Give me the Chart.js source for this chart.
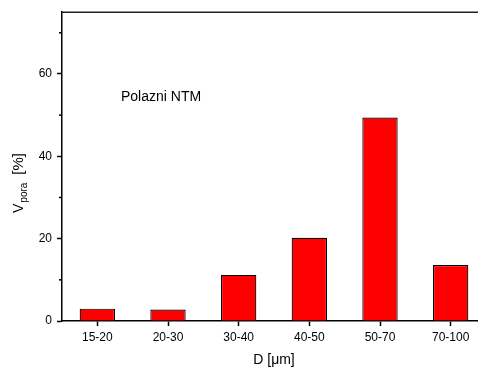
<!DOCTYPE html>
<html>
<head>
<meta charset="utf-8">
<script src="https://cdn.jsdelivr.net/npm/chart.js@4.4.0/dist/chart.umd.min.js"></script>
<style>
  html, body { margin: 0; padding: 0; background: #fff; overflow: hidden; }
  #wrap { width: 490px; height: 369px; }
</style>
</head>
<body>
<div id="wrap"><canvas id="myChart" width="490" height="369"></canvas></div>
<script>
const categories = ['15-20', '20-30', '30-40', '40-50', '50-70', '70-100']
const vPora = [3.0, 2.8, 11.2, 20.2, 49.4, 13.6]
const majorTicks = [0, 20, 40, 60]
const minorTicks = [10, 30, 50, 70]
const note = 'Polazni NTM'

const FONT = '"Liberation Sans", Arial, sans-serif'

const extras = {
    id: 'extras',
    afterDraw(chart) {
        const { ctx, chartArea, scales: { y } } = chart
        ctx.save()
        // top frame line
        ctx.strokeStyle = '#222'
        ctx.lineWidth = 1.5
        ctx.beginPath()
        ctx.moveTo(chartArea.left, chartArea.top)
        ctx.lineTo(chartArea.right + 10, chartArea.top)
        ctx.stroke()
        // minor ticks on y
        ctx.strokeStyle = '#000'
        minorTicks.forEach(v => {
            const py = y.getPixelForValue(v)
            ctx.beginPath()
            ctx.moveTo(chartArea.left - 3, py)
            ctx.lineTo(chartArea.left, py)
            ctx.stroke()
        })
        // annotation
        ctx.fillStyle = '#000'
        ctx.font = '14px ' + FONT
        ctx.textBaseline = 'middle'
        ctx.fillText(note, chartArea.left + 59, y.getPixelForValue(54.3))
        // y title with subscript
        ctx.translate(23, 213)
        ctx.rotate(-Math.PI / 2)
        ctx.textBaseline = 'alphabetic'
        ctx.font = '14px ' + FONT
        ctx.fillText('V', 0, 0)
        let w = ctx.measureText('V').width + 1
        ctx.font = '10px ' + FONT
        ctx.fillText('pora', w, 4)
        w += ctx.measureText('pora').width + 8
        ctx.font = '15px ' + FONT
        ctx.fillText('[%]', w, 0)
        ctx.restore()
    }
}

const ctx = document.getElementById('myChart')
new Chart(ctx, {
    type: 'bar',
    data: {
        labels: categories,
        datasets: [{
            label: 'V pora',
            data: vPora,
            backgroundColor: '#ff0000',
            borderColor: '#000',
            borderWidth: 1.2,
            borderSkipped: 'bottom',
            barPercentage: 0.5,
            categoryPercentage: 1
        }]
    },
    options: {
        responsive: false,
        animation: false,
        layout: { padding: { top: 11, right: 4, left: 0, bottom: 0 } },
        plugins: {
            legend: { display: false },
            tooltip: { enabled: false }
        },
        scales: {
            x: {
                offset: true,
                afterFit: s => { s.height = 48 },
                grid: {
                    offset: false,
                    drawOnChartArea: false,
                    tickLength: 5,
                    tickColor: '#000',
                    tickWidth: 1.5
                },
                border: { display: true, color: '#000', width: 1.5 },
                ticks: { color: '#000', font: { family: FONT, size: 12 }, padding: 4, maxRotation: 0 },
                title: {
                    display: true,
                    text: 'D [μm]',
                    color: '#000',
                    font: { family: FONT, size: 14 },
                    padding: { top: 0, bottom: 0 }
                }
            },
            y: {
                min: 0,
                max: 75,
                afterFit: s => { s.width = 62 },
                ticks: {
                    stepSize: 10,
                    color: '#000',
                    font: { family: FONT, size: 12 },
                    padding: 5,
                    callback: v => majorTicks.includes(v) ? v : ''
                },
                grid: {
                    drawOnChartArea: false,
                    tickLength: 5,
                    tickWidth: 1.5,
                    tickColor: c => majorTicks.includes(c.tick.value) ? '#000' : 'rgba(0,0,0,0)'
                },
                border: { display: true, color: '#000', width: 1.5 }
            }
        }
    },
    plugins: [extras]
})
</script>
</body>
</html>
